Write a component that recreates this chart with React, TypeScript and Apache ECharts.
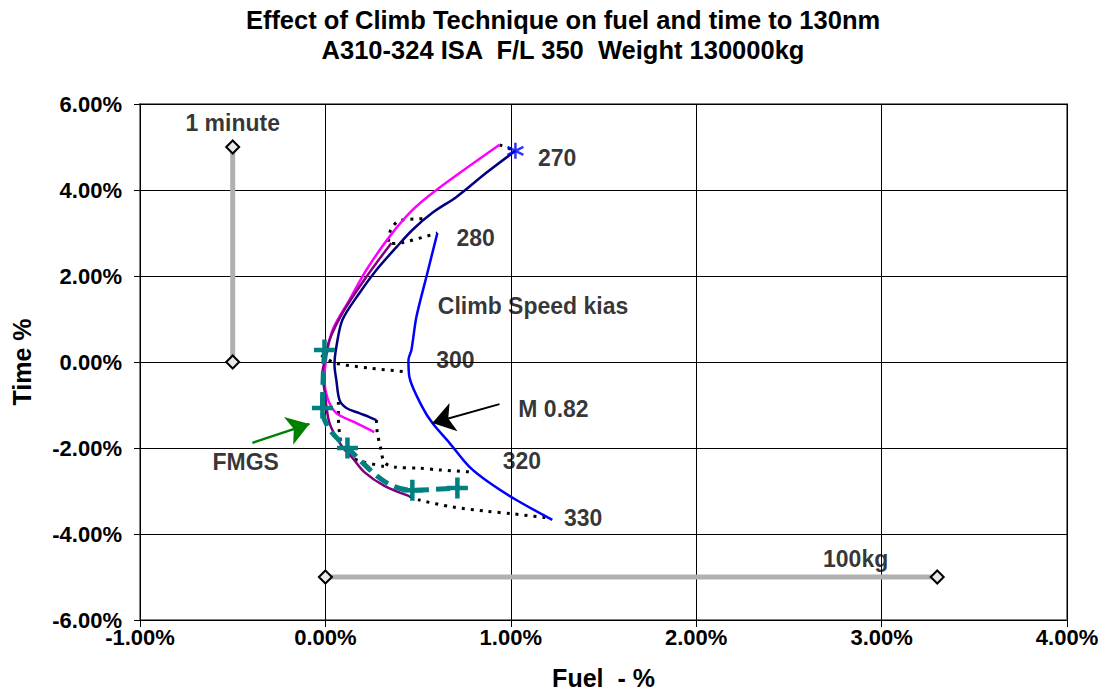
import React, { useEffect, useRef } from "react";
import * as echarts from "echarts";

const FONT = '"Liberation Sans", Arial, sans-serif';

const TITLE_LINES = [
  "Effect of Climb Technique on fuel and time to 130nm",
  "A310-324 ISA  F/L 350  Weight 130000kg",
];

// [fuel %, time %]
const navyCurve = [
  [1.025, 4.91], [0.868, 4.4], [0.707, 3.84], [0.577, 3.47], [0.469, 3.07], [0.383, 2.67],
  [0.275, 2.14], [0.183, 1.6], [0.092, 0.98], [0.059, 0.35], [0.049, -0.07], [0.059, -0.42],
  [0.076, -0.88], [0.113, -1.07], [0.183, -1.19], [0.237, -1.28], [0.275, -1.35],
];
const magentaCurve = [
  [0.939, 5.05], [0.599, 4.0], [0.469, 3.53], [0.345, 2.91], [0.221, 2.14], [0.129, 1.44],
  [0.038, 0.74], [0.005, 0.12], [-0.005, -0.42], [0.011, -0.84], [0.059, -1.19],
  [0.156, -1.4], [0.264, -1.63],
];
const purpleCurve = [
  [0.356, 2.77], [0.221, 1.98], [0.102, 1.21], [0.022, 0.51], [-0.005, 0.0], [-0.016, -0.26],
  [-0.005, -0.65], [0.022, -1.42], [0.092, -1.98], [0.146, -2.23], [0.21, -2.56],
  [0.318, -2.88], [0.453, -3.12],
];
const blueCurve = [
  [0.604, 3.0], [0.55, 2.07], [0.491, 1.05], [0.464, 0.28], [0.448, 0.05], [0.453, -0.35],
  [0.523, -1.05], [0.577, -1.42], [0.669, -1.88], [0.777, -2.44], [0.885, -2.81],
  [1.03, -3.21], [1.224, -3.67],
];
const fmgsCurve = [
  [-0.005, 0.28], [-0.016, -1.07], [0.119, -2.0], [0.469, -2.98], [0.712, -2.93],
];

// constant-speed connectors (dotted)
const dotted270 = [[0.939, 5.05], [1.025, 4.91]];
const dotted280 = [[0.523, 3.33], [0.4, 3.29], [0.35, 3.05], [0.34, 2.75], [0.42, 2.78], [0.604, 3.0]];
const dotted300 = [[-0.022, 0.16], [0.049, -0.02], [0.237, -0.14], [0.442, -0.23]];
const dotted310 = [[0.07, -0.93], [0.07, -1.23], [0.076, -1.65], [0.092, -1.98], [0.146, -2.23], [0.21, -2.33], [0.329, -2.44]];
const dotted320 = [[0.275, -1.35], [0.28, -1.65], [0.297, -1.98], [0.318, -2.33], [0.372, -2.44], [0.507, -2.47], [0.615, -2.51], [0.793, -2.56]];
const dotted330 = [[0.453, -3.12], [0.507, -3.21], [0.685, -3.37], [0.868, -3.47], [1.009, -3.53], [1.208, -3.63]];
const dottedLines = [dotted270, dotted280, dotted300, dotted310, dotted320, dotted330];

// scale bars
const minuteBar = [[-0.5, 5], [-0.5, 0]];
const kgBar = [[0, -5], [3.3, -5]];

// annotation texts: [text, fuel, time]
const annotations: [string, number, number][] = [
  ["1 minute", -0.5, 5.56],
  ["270", 1.25, 4.74],
  ["280", 0.81, 2.88],
  ["Climb Speed kias", 1.12, 1.3],
  ["300", 0.701, 0.05],
  ["M 0.82", 1.23, -1.09],
  ["320", 1.06, -2.3],
  ["330", 1.39, -3.63],
  ["FMGS", -0.43, -2.33],
  ["100kg", 2.86, -4.58],
];

// arrows: [from, to]
const blackArrow = [[0.939, -0.98], [0.577, -1.42]];
const greenArrow = [[-0.394, -1.88], [-0.086, -1.44]];

const X_MIN = -1, X_MAX = 4, X_STEP = 1;
const Y_MIN = -6, Y_MAX = 6, Y_STEP = 2;

const STAR = "path://M0,-10L0,10M-8.66,-5L8.66,5M-8.66,5L8.66,-5";
const PLUS = "path://M-10,0L10,0M0,-10L0,10";

export default function App() {
  const ref = useRef<HTMLDivElement>(null);
  useEffect(() => {
    if (!ref.current) return;
    const chart = echarts.init(ref.current, undefined, { renderer: "svg" });
    const lineSeries = (data: number[][], color: string, width = 2.5) => ({
      type: "line",
      data,
      smooth: 0.3,
      showSymbol: false,
      symbol: "none",
      lineStyle: { color, width },
      z: 3,
    });
    const option: any = {
      animation: false,
      backgroundColor: "#ffffff",
      textStyle: { fontFamily: FONT },
      graphic: [
        {
          type: "text",
          x: 563,
          y: 5,
          style: {
            text: TITLE_LINES.join("\n"),
            font: `bold 25.5px ${FONT}`,
            fill: "#000",
            align: "center",
            verticalAlign: "top",
            lineHeight: 30,
          },
        },
      ],
      grid: {
        left: 140,
        right: 38,
        top: 104,
        bottom: 73,
        show: true,
        borderColor: "#808080",
        borderWidth: 2,
        backgroundColor: "#ffffff",
        outerBoundsMode: "none",
        containLabel: false,
      },
      xAxis: {
        type: "value",
        min: X_MIN,
        max: X_MAX,
        interval: X_STEP,
        name: "Fuel  - %",
        nameLocation: "middle",
        nameGap: 45,
        nameTextStyle: { fontFamily: FONT, fontWeight: "bold", fontSize: 25, color: "#000" },
        axisLine: { show: true, onZero: false, lineStyle: { color: "#000", width: 1 } },
        axisTick: { show: true, inside: false, length: 7, lineStyle: { color: "#000" } },
        axisLabel: {
          margin: 6,
          fontFamily: FONT,
          fontWeight: "bold",
          fontSize: 22,
          color: "#000",
          formatter: (v: number) => v.toFixed(2) + "%",
        },
        splitLine: { show: true, lineStyle: { color: "#000", width: 1 } },
      },
      yAxis: {
        type: "value",
        min: Y_MIN,
        max: Y_MAX,
        interval: Y_STEP,
        name: "Time %",
        nameLocation: "middle",
        nameRotate: 90,
        nameGap: 106,
        nameTextStyle: { fontFamily: FONT, fontWeight: "bold", fontSize: 25, color: "#000" },
        axisLine: { show: true, onZero: false, lineStyle: { color: "#000", width: 1 } },
        axisTick: { show: true, inside: false, length: 6, lineStyle: { color: "#000" } },
        axisLabel: {
          margin: 18,
          fontFamily: FONT,
          fontWeight: "bold",
          fontSize: 22,
          color: "#000",
          formatter: (v: number) => v.toFixed(2) + "%",
        },
        splitLine: { show: true, lineStyle: { color: "#000", width: 1 } },
      },
      series: [
        // scale bars
        {
          type: "line",
          data: minuteBar,
          symbol: "diamond",
          symbolSize: 13,
          lineStyle: { color: "#b0b0b0", width: 5 },
          itemStyle: { color: "#e8e8e8", borderColor: "#000", borderWidth: 2 },
          z: 2,
        },
        {
          type: "line",
          data: kgBar,
          symbol: "diamond",
          symbolSize: 13,
          lineStyle: { color: "#b0b0b0", width: 5 },
          itemStyle: { color: "#e8e8e8", borderColor: "#000", borderWidth: 2 },
          z: 2,
        },
        ...dottedLines.map((d) => ({
          type: "line",
          data: d,
          smooth: 0.3,
          showSymbol: false,
          symbol: "none",
          lineStyle: { color: "#000", width: 3, type: [3, 6] },
          z: 2,
        })),
        lineSeries(blueCurve, "#0000ff"),
        lineSeries(magentaCurve, "#ff00ff"),
        lineSeries(purpleCurve, "#800080"),
        lineSeries(navyCurve, "#000080"),
        {
          type: "line",
          data: fmgsCurve,
          smooth: 0.4,
          symbol: PLUS,
          symbolSize: 21,
          showSymbol: true,
          lineStyle: { color: "#008080", width: 5, type: [14, 7] },
          itemStyle: { color: "rgba(0,0,0,0)", borderColor: "#008080", borderWidth: 4.5 },
          z: 4,
        },
        {
          type: "scatter",
          data: [navyCurve[0]],
          symbol: STAR,
          symbolSize: 16,
          itemStyle: { color: "rgba(0,0,0,0)", borderColor: "#0000ff", borderWidth: 2.5 },
          z: 5,
        },
        {
          type: "lines",
          coordinateSystem: "cartesian2d",
          data: [{ coords: blackArrow }],
          symbol: ["none", "arrow"],
          symbolSize: 22,
          lineStyle: { color: "#000", width: 2, opacity: 1, curveness: 0 },
          z: 6,
        },
        {
          type: "lines",
          coordinateSystem: "cartesian2d",
          data: [{ coords: greenArrow }],
          symbol: ["none", "arrow"],
          symbolSize: 22,
          lineStyle: { color: "#008000", width: 2.5, opacity: 1, curveness: 0 },
          z: 6,
        },
        {
          type: "scatter",
          data: annotations.map(([t, x, y]) => ({ value: [x, y], name: t })),
          symbolSize: 1,
          itemStyle: { color: "rgba(0,0,0,0)" },
          label: {
            show: true,
            position: "inside",
            formatter: (p: any) => p.name,
            fontFamily: FONT,
            fontWeight: "bold",
            fontSize: 23,
            color: "#000",
          },
          z: 7,
        },
      ],
    };
    chart.setOption(option);
    return () => chart.dispose();
  }, []);
  return (
    <div
      ref={ref}
      style={{ position: "fixed", left: 0, top: 0, width: 1105, height: 693, background: "#fff" }}
    />
  );
}
